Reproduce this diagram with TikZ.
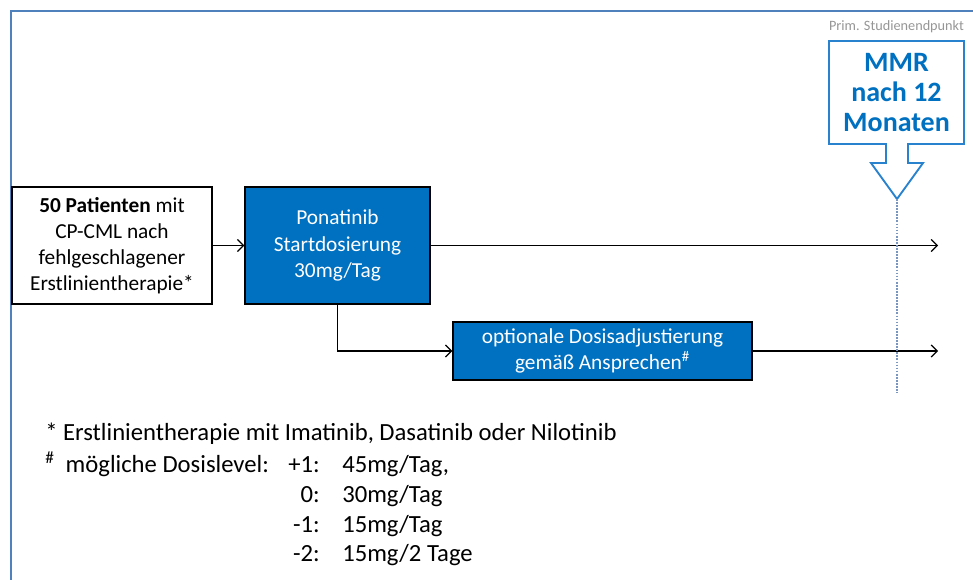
\documentclass[tikz,border=0pt]{standalone}
\usepackage{fontspec}
\setmainfont{Carlito}
\usepackage{tikz}
\usetikzlibrary{positioning,calc,arrows.meta}

\definecolor{frameblue}{RGB}{79,129,189}
\definecolor{boxblue}{RGB}{0,112,192}
\definecolor{callblue}{RGB}{40,130,205}
\definecolor{dotblue}{RGB}{120,150,190}
\definecolor{labelgray}{RGB}{150,150,150}

\tikzset{
  flowbox/.style={draw=black, line width=1.1pt, align=center, inner sep=2pt,
    font=\fontsize{16pt}{19.5pt}\selectfont},
  bluebox/.style={flowbox, fill=boxblue, text=white},
  flowarrow/.style={line width=0.9pt, -{Straight Barb[length=4.5pt,width=9pt]}},
  notetext/.style={inner sep=0pt, font=\fontsize{18.5pt}{22pt}\selectfont}
}

\begin{document}
\begin{tikzpicture}[x=0.75pt, y=-0.75pt]
    \useasboundingbox (0,0) rectangle (973,579);

    % Frame
    \draw[frameblue, line width=2.2pt] (11,585) -- (11,11) -- (980,11);

    % Boxes
    \node[flowbox, minimum width=150pt, minimum height=87.75pt] (patients) at (112,245.5)
        {\textbf{50 Patienten} mit\\CP-CML nach\\fehlgeschlagener\\Erstlinientherapie*};
    \node[bluebox, minimum width=138.75pt, minimum height=87.75pt,
        font=\fontsize{16pt}{20pt}\selectfont] (ponatinib) at (337.5,245.5)
        {Ponatinib\\Startdosierung\\30mg/Tag};
    \node[bluebox, minimum width=224.25pt, minimum height=43.5pt] (adjust) at (602.5,351)
        {optionale Dosisadjustierung\\gemäß Ansprechen\textsuperscript{\#}};

    % Ends of the time lines
    \coordinate (end1) at (938,245.5);
    \coordinate (end2) at (938,351);

    % Connectors
    \draw[flowarrow] (patients) -- (ponatinib);
    \draw[flowarrow] (ponatinib) -- (end1);
    \draw[flowarrow] (ponatinib.south) |- (adjust.west);
    \draw[flowarrow] (adjust) -- (end2);

    % Primary endpoint callout
    \node[labelgray, font=\fontsize{10.7pt}{12pt}\selectfont] (endlabel) at (896.5,27) {Prim. Studienendpunkt};
    \draw[callblue, line width=1.4pt, fill=white]
        (829,41) -- (964,41) -- (964,144) -- (908,144) -- (908,163) -- (923,163)
        -- (897,199) -- (871,163) -- (886,163) -- (886,144) -- (829,144) -- cycle;
    \node[boxblue, align=center, font=\bfseries\fontsize{21pt}{22.5pt}\selectfont] (endpoint) at (896.5,93)
        {MMR\\nach 12\\Monaten};
    \coordinate (tip) at (897,199);
    \coordinate (tipend) at (897,393);
    \draw[dotblue, line width=1.3pt, densely dotted] (tip) -- (tipend);

    % Footnotes
    \node[notetext, anchor=base west] (note1) at (45,440)
        {* Erstlinientherapie mit Imatinib, Dasatinib oder Nilotinib};
    \node[notetext, anchor=base west] (note2) at (45,472)
        {\textsuperscript{\#}\ \ mögliche Dosislevel:};
    \foreach \lvl/\dose/\yy in {+1/{45mg/Tag,}/472, 0/{30mg/Tag}/502, -1/{15mg/Tag}/532, -2/{15mg/2 Tage}/561}{
        \node[notetext, anchor=base east] at (320,\yy) {\lvl:};
        \node[notetext, anchor=base west] at (342,\yy) {\dose};
    }

\end{tikzpicture}
\end{document}
